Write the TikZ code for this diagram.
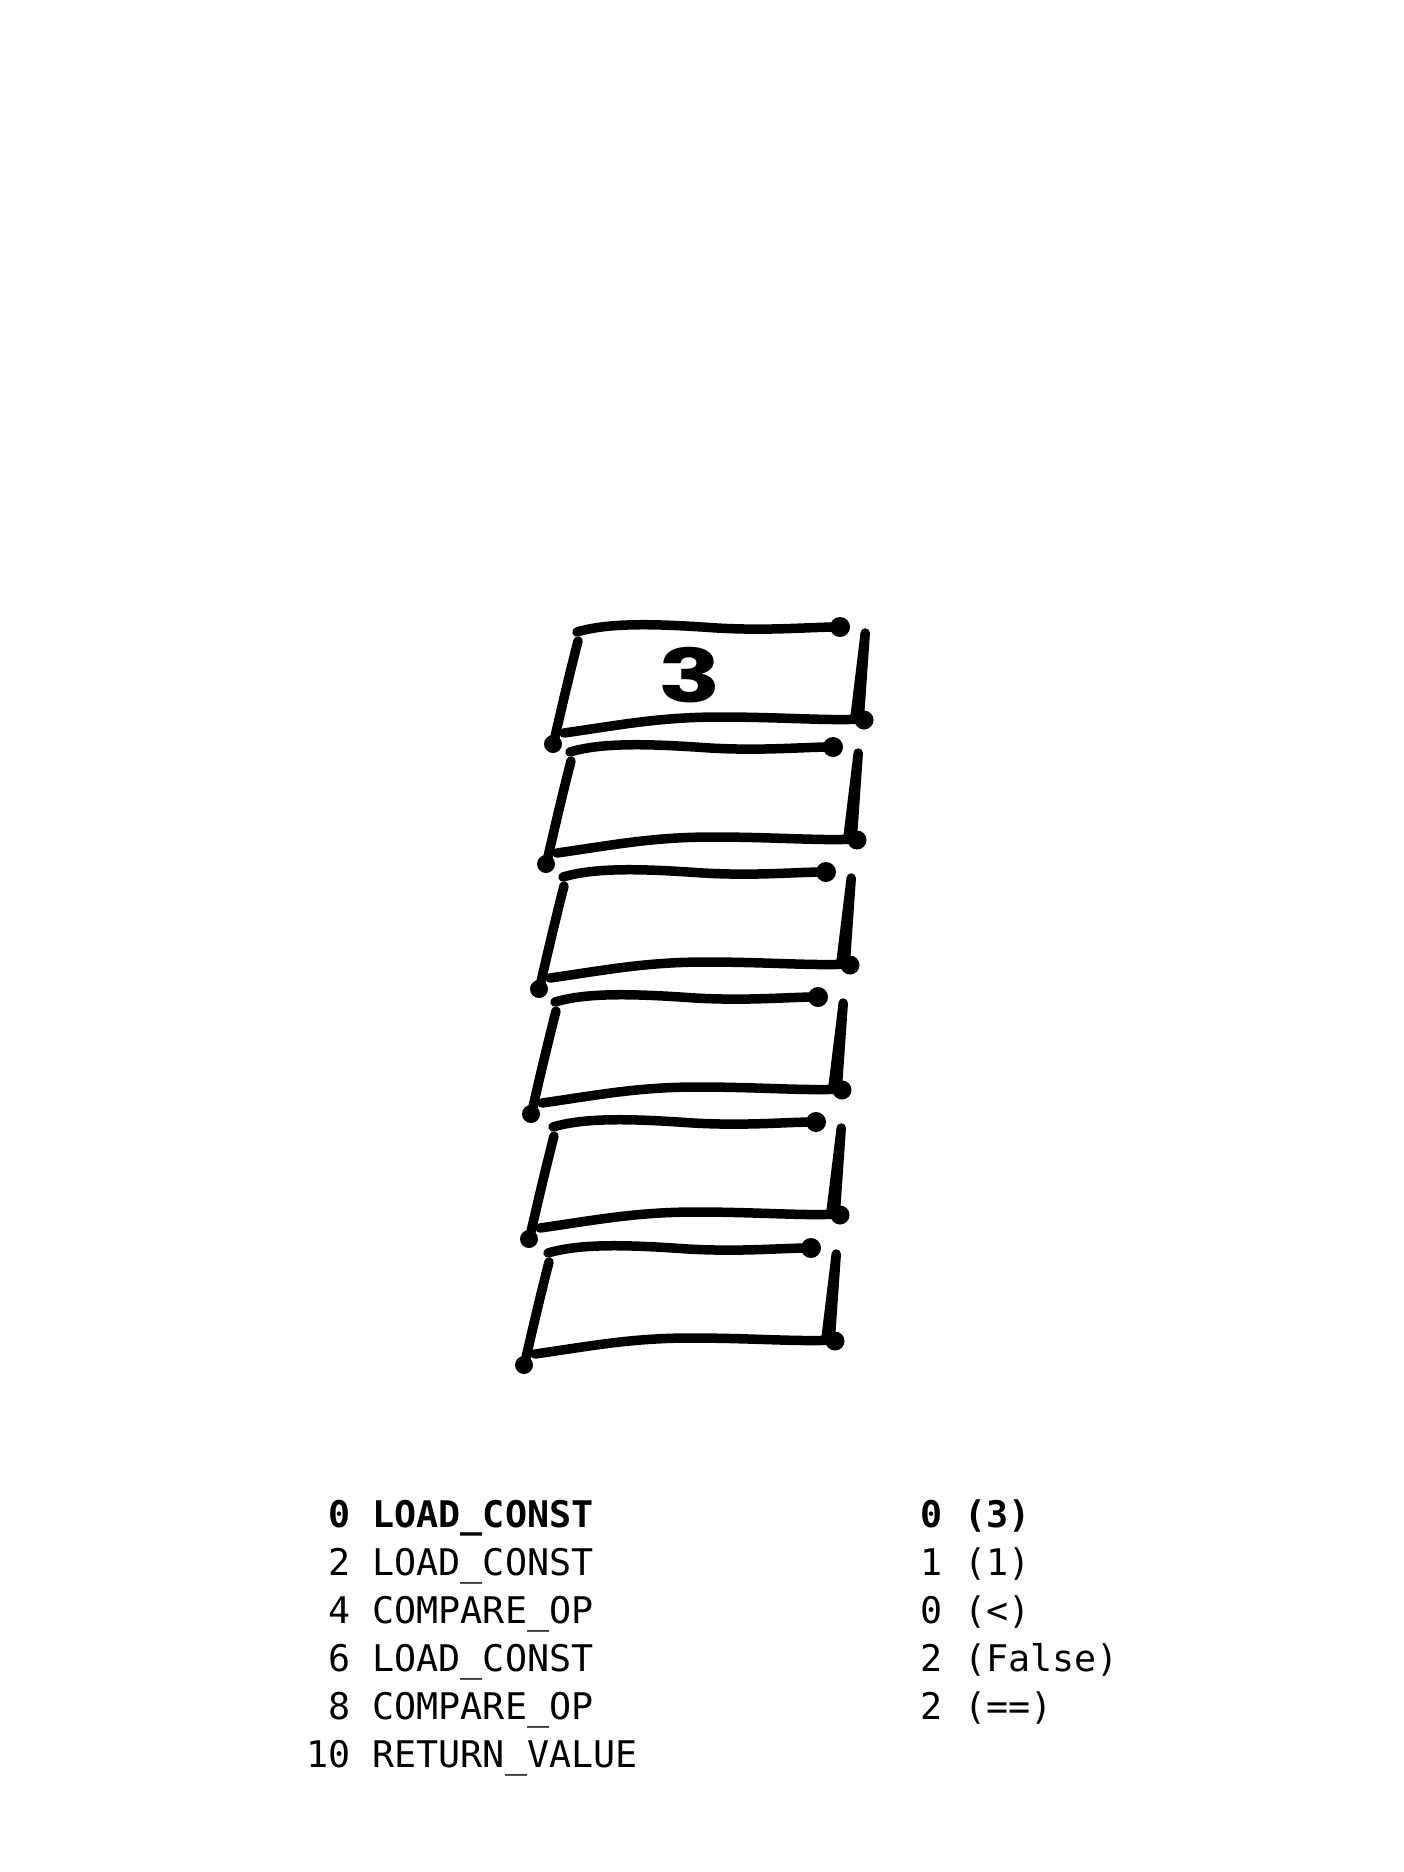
\documentclass[tikz,border=0pt]{standalone}
\usepackage{fontspec}
\usepackage{graphicx}
\newfontfamily\codefont{DejaVu Sans Mono}
\newfontfamily\handfont{Poppins}
\tikzset{
  pen/.style={line width=9.5pt, line cap=round, line join=round, black},
  codeline/.style={anchor=base west, inner sep=0pt, font=\codefont\fontsize{36.7}{44}\selectfont},
  boldline/.style={codeline, font=\codefont\bfseries\fontsize{36.7}{44}\selectfont},
}
\newcommand{\stackcell}[2]{%
  \begin{scope}[shift={(#1,#2)}]
    % top edge with dot at right
    \draw[pen] (577,632) .. controls (610,622) and (660,624) .. (717,628)
                         .. controls (770,631) and (810,627) .. (838,627);
    \fill (840,627) circle (10);
    % left edge with dot at bottom
    \draw[pen] (578,641) .. controls (568,680) and (560,715) .. (554,741);
    \fill (553,744) circle (9);
    % bottom edge
    \draw[pen] (564,733) .. controls (620,725) and (660,717) .. (720,717)
                         .. controls (780,717) and (830,721) .. (862,719);
    \fill (864,720) circle (9.5);
    % right edge, tapered
    \fill (860.5,633) -- (870,633) -- (864,719) -- (850,719) -- cycle;
    \fill (865.2,633) circle (4.75);
  \end{scope}}
\begin{document}
\begin{tikzpicture}[x=1pt,y=-1pt]
\useasboundingbox[fill=white] (0,0) rectangle (1404,1872);
\stackcell{0}{0}
\stackcell{-7}{120}
\stackcell{-14}{245}
\stackcell{-22}{370}
\stackcell{-24}{495}
\stackcell{-29}{621}
\node[inner sep=0pt, font=\handfont\bfseries\fontsize{74}{74}\selectfont] (three) at (690,675) {\scalebox{1.4}[1]{3}};
% bytecode listing
\node[boldline] (t0) at (306,1527) {\ 0 LOAD\_CONST};
\node[codeline] (t1) at (306,1575) {\ 2 LOAD\_CONST};
\node[codeline] (t2) at (306,1623) {\ 4 COMPARE\_OP};
\node[codeline] (t3) at (306,1671) {\ 6 LOAD\_CONST};
\node[codeline] (t4) at (306,1719) {\ 8 COMPARE\_OP};
\node[codeline] (t5) at (306,1767) {10 RETURN\_VALUE};
\node[boldline] (a0) at (920,1527) {0 (3)};
\node[codeline] (a1) at (920,1575) {1 (1)};
\node[codeline] (a2) at (920,1623) {0 (<)};
\node[codeline] (a3) at (920,1671) {2 (False)};
\node[codeline] (a4) at (920,1719) {2 (==)};
\end{tikzpicture}
\end{document}
